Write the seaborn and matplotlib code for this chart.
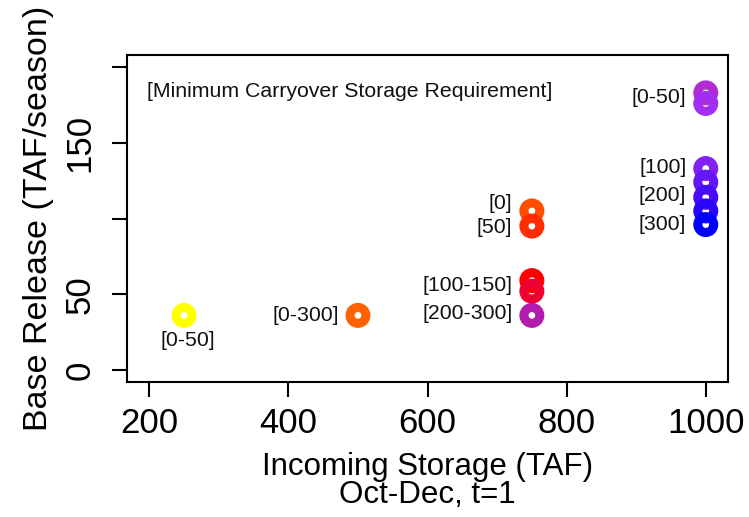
import matplotlib
matplotlib.use("Agg")
import matplotlib.pyplot as plt
import seaborn as sns
import pandas as pd

# ---- data ----
storage = [250, 500, 750, 750, 750, 750, 750, 1000, 1000, 1000, 1000, 1000, 1000, 1000]
release = [36, 36, 105, 95, 59, 52, 36, 183, 176, 133, 124, 114, 105, 96]
group = ["y250", "o500", "c0", "c50", "c100", "c150", "c200",
         "d0", "d50", "d100", "d150", "d200", "d250", "d300"]
colors = ["#FFFF00", "#FF6200", "#FF4E00", "#FF2C00", "#FF0000", "#EE0032", "#B31AAE",
          "#B22CD6", "#A12EF2", "#8221F4", "#6516F6", "#480CF8", "#2805FB", "#0000FF"]

# labels: text, storage, release (point value the label refers to), placement
label_text = ["[0-50]", "[0-300]", "[0]", "[50]", "[100-150]", "[200-300]",
              "[0-50]", "[100]", "[200]", "[300]"]
label_x = [250, 500, 750, 750, 750, 750, 1000, 1000, 1000, 1000]
label_y = [36, 36, 110, 94, 56, 37, 180, 134, 115, 96]
label_pos = ["below", "left", "left", "left", "left", "left", "left", "left", "left", "left"]

x_ticks = [200, 400, 600, 800, 1000]
y_ticks = [0, 50, 100, 150, 200]
y_ticklabels = ["0", "50", "", "150", ""]

note = "[Minimum Carryover Storage Requirement]"

# ---- plot ----
sns.set_theme(style="ticks")
plt.rcParams["font.family"] = ["Liberation Sans", "DejaVu Sans"]

df = pd.DataFrame({"storage": storage, "release": release, "group": group})
palette = dict(zip(group, colors))

fig = plt.figure(figsize=(7.49, 5.17), dpi=100)
ax = fig.add_axes([0.1696, 0.2611, 0.8024, 0.6325])

sns.scatterplot(data=df, x="storage", y="release", hue="group", palette=palette,
                hue_order=group, s=132, linewidth=6.5, legend=False, ax=ax, zorder=3)
coll = ax.collections[0]
fc = coll.get_facecolors()
coll.set_edgecolors(fc)
coll.set_facecolors("none")

ax.set_xlim(168, 1032)
ax.set_ylim(-8, 208)
ax.set_xticks(x_ticks)
ax.set_xticklabels([str(t) for t in x_ticks])
ax.set_yticks(y_ticks)
ax.set_yticklabels(y_ticklabels, rotation=90, va="center")

ax.tick_params(axis="both", length=10.8, width=1.5, color="black",
               labelsize=25, labelcolor="black")
ax.tick_params(axis="x", pad=7)
ax.tick_params(axis="y", pad=11)
for sp in ax.spines.values():
    sp.set_visible(True)
    sp.set_linewidth(1.5)
    sp.set_color("black")

ax.set_xlabel("Incoming Storage (TAF)\nOct-Dec, t=1", fontsize=22.5,
              linespacing=0.95, labelpad=8.5, color="black")
ax.set_ylabel("Base Release (TAF/season)", fontsize=24.5, labelpad=7, color="black")

for t, x, y, p in zip(label_text, label_x, label_y, label_pos):
    if p == "left":
        ax.annotate(t, (x, y), xytext=(-14, 0), textcoords="offset points",
                    ha="right", va="center", fontsize=15.3, color="#111111")
    else:
        ax.annotate(t, (x, y), xytext=(3, -18), textcoords="offset points",
                    ha="center", va="center", fontsize=15.3, color="#111111")

ax.text(0.033, 0.887, note, transform=ax.transAxes, ha="left", va="center",
        fontsize=15.3, color="#111111")

fig.savefig("out.png", dpi=100)
